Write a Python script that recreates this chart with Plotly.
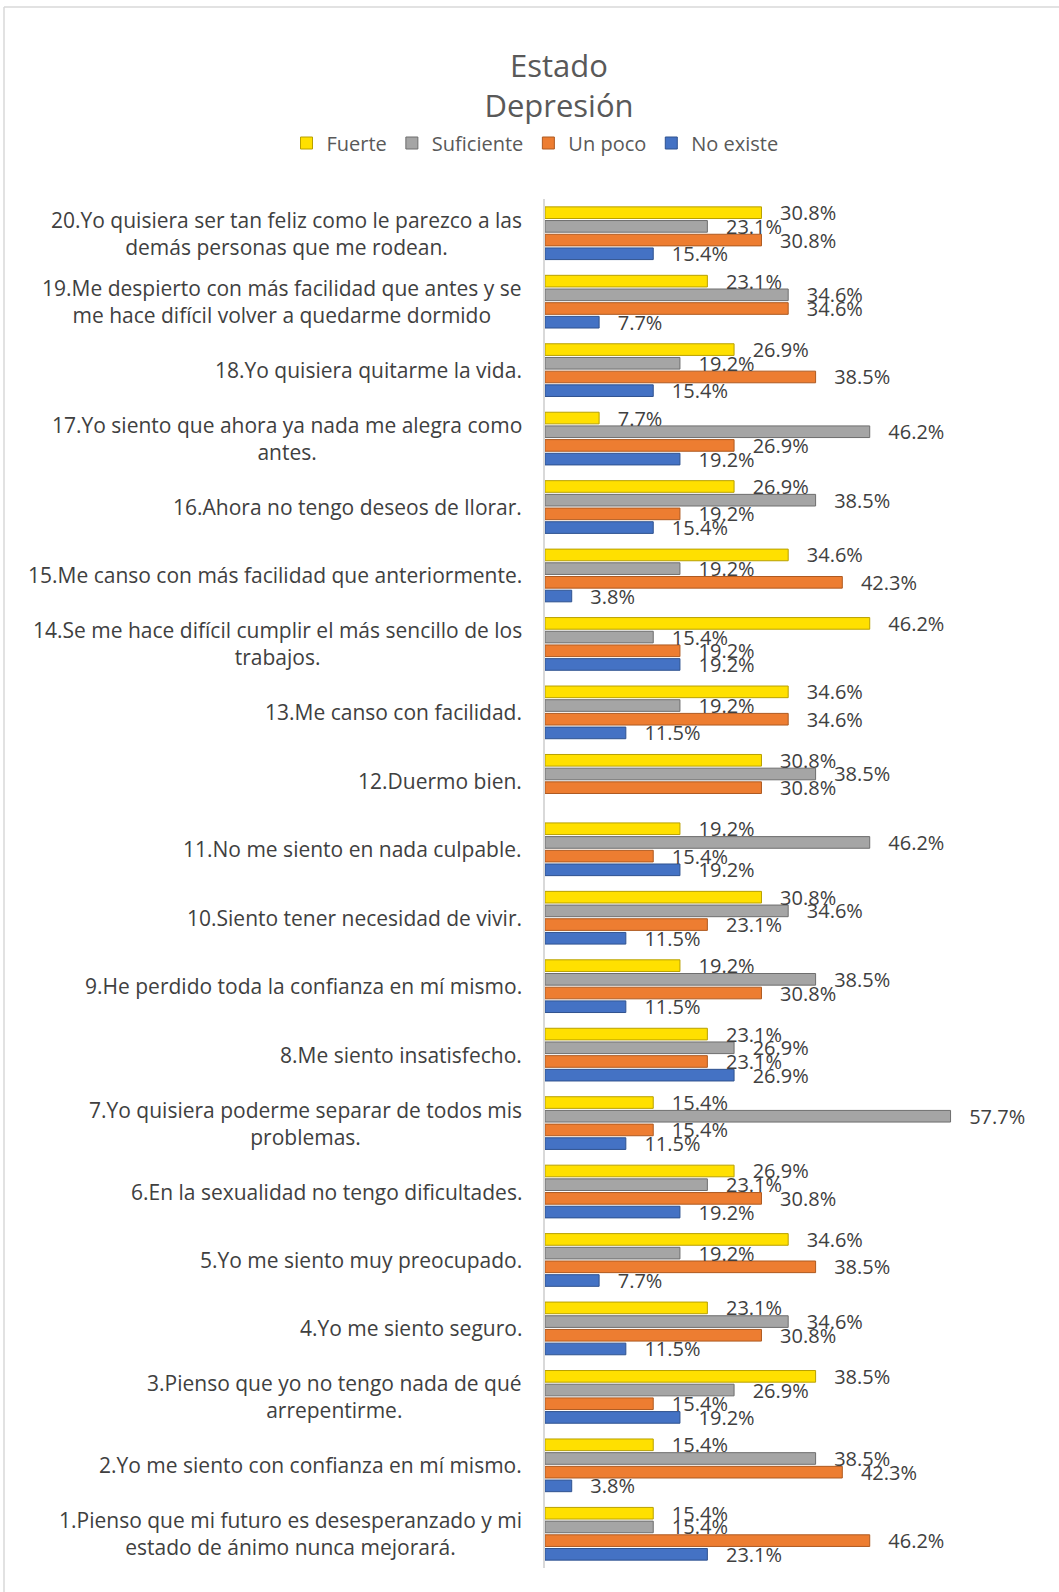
import plotly.graph_objects as go

categories = [
    "1.Pienso que mi futuro es desesperanzado y mi<br>estado de ánimo nunca mejorará.",
    "2.Yo me siento con confianza en mí mismo.",
    "3.Pienso que yo no tengo nada de qué<br>arrepentirme.",
    "4.Yo me siento seguro.",
    "5.Yo me siento muy preocupado.",
    "6.En la sexualidad no tengo dificultades.",
    "7.Yo quisiera poderme separar de todos mis<br>problemas.",
    "8.Me siento insatisfecho.",
    "9.He perdido toda la confianza en mí mismo.",
    "10.Siento tener necesidad de vivir.",
    "11.No me siento en nada culpable.",
    "12.Duermo bien.",
    "13.Me canso con facilidad.",
    "14.Se me hace difícil cumplir el más sencillo de los<br>trabajos.",
    "15.Me canso con más facilidad que anteriormente.",
    "16.Ahora no tengo deseos de llorar.",
    "17.Yo siento que ahora ya nada me alegra como<br>antes.",
    "18.Yo quisiera quitarme la vida.",
    "19.Me despierto con más facilidad que antes y se<br>me hace difícil volver a quedarme dormido",
    "20.Yo quisiera ser tan feliz como le parezco a las<br>demás personas que me rodean.",
]

fuerte     = [15.4, 15.4, 38.5, 23.1, 34.6, 26.9, 15.4, 23.1, 19.2, 30.8, 19.2, 30.8, 34.6, 46.2, 34.6, 26.9, 7.7, 26.9, 23.1, 30.8]
suficiente = [15.4, 38.5, 26.9, 34.6, 19.2, 23.1, 57.7, 26.9, 38.5, 34.6, 46.2, 38.5, 19.2, 15.4, 19.2, 38.5, 46.2, 19.2, 34.6, 23.1]
un_poco    = [46.2, 42.3, 15.4, 30.8, 38.5, 30.8, 15.4, 23.1, 30.8, 23.1, 15.4, 30.8, 34.6, 19.2, 42.3, 19.2, 26.9, 38.5, 34.6, 30.8]
no_existe  = [23.1, 3.8, 19.2, 11.5, 7.7, 19.2, 11.5, 26.9, 11.5, 11.5, 19.2, 0.0, 11.5, 19.2, 3.8, 15.4, 19.2, 15.4, 7.7, 15.4]

series = [
    ("No existe", no_existe, "#4472C4", "#2F528F"),
    ("Un poco", un_poco, "#ED7D31", "#AE5A21"),
    ("Suficiente", suficiente, "#A5A5A5", "#6E6E6E"),
    ("Fuerte", fuerte, "#FFE000", "#B8A000"),
]

NB = "\u00a0"
fig = go.Figure()
for name, vals, col, edge in series:
    fig.add_trace(go.Bar(
        name=name, y=categories, x=vals, orientation="h",
        marker=dict(color=col, line=dict(color=edge, width=[1 if v > 0 else 0 for v in vals])),
        text=[(NB * 3 + f"{v:.1f}%") if v > 0 else "" for v in vals],
        textposition="outside", constraintext="none", cliponaxis=False,
        textfont=dict(family="Open Sans", size=20, color="#404040"),
        hoverinfo="skip",
    ))

W, H = 1059, 1592
L, R, T, B = 545, 22, 199, 24
pw, ph = W - L - R, H - T - B

annotations = []
for c in categories:
    annotations.append(dict(
        text=c, xref="paper", yref="y", x=(524 - L) / pw, y=c,
        xanchor="right", yanchor="middle", align="center", showarrow=False,
        font=dict(family="Open Sans", size=21, color="#404040"),
    ))

shapes = [
    dict(type="line", xref="paper", yref="paper",
         x0=(4 - L) / pw, x1=(1059 - L) / pw, y0=(H - B - 7) / ph, y1=(H - B - 7) / ph,
         line=dict(color="#D9D9D9", width=1.5)),
    dict(type="line", xref="paper", yref="paper",
         x0=(4 - L) / pw, x1=(4 - L) / pw, y0=(H - B - 7) / ph, y1=(H - B - 1592) / ph,
         line=dict(color="#D9D9D9", width=1.5)),
]

fig.update_layout(
    width=W, height=H,
    margin=dict(l=L, r=R, t=T, b=B),
    paper_bgcolor="white", plot_bgcolor="white",
    barmode="group", bargap=0.2, bargroupgap=0.15,
    title=dict(text="Estado<br>Depresión", x=559 / W, xref="container", xanchor="center",
               y=1 - 77 / H, yref="container", yanchor="top",
               font=dict(family="Open Sans", size=31, color="#595959")),
    legend=dict(orientation="h", traceorder="reversed", xref="container", yref="container",
                x=535 / W, xanchor="center", y=1 - 143 / H, yanchor="middle",
                font=dict(family="Open Sans", size=20, color="#595959"),
                itemwidth=30, tracegroupgap=0),
    xaxis=dict(range=[0, 70], visible=False, fixedrange=True),
    yaxis=dict(type="category", categoryorder="array", categoryarray=categories,
               showticklabels=False, showline=True, linecolor="#D9D9D9", linewidth=2,
               showgrid=False, ticks="", zeroline=False, fixedrange=True),
    annotations=annotations,
    shapes=shapes,
    showlegend=True,
)

fig.write_html("out.html", config={"displayModeBar": False},
               post_script="document.body.style.margin='0';document.body.style.overflow='hidden';")
